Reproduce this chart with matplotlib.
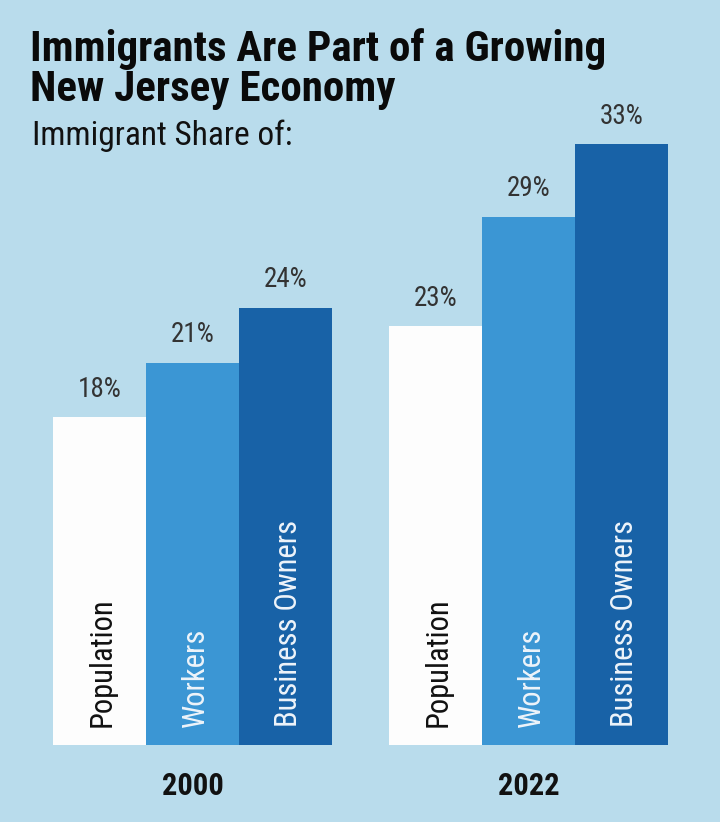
import matplotlib.pyplot as plt
import numpy as np

years = ['2000', '2022']
categories = ['Population', 'Workers', 'Business Owners']
shares = {
    '2000': [18, 21, 24],
    '2022': [23, 29, 33],
}
colors = ['#fdfdfd', '#3b96d4', '#1862a7']
text_colors = ['#111111', '#eef4fa', '#eef4fa']

bg = '#b9dcec'
plt.rcParams['font.family'] = ['Roboto Condensed', 'DejaVu Sans']

fig = plt.figure(figsize=(7.2, 8.22), dpi=100, facecolor=bg)

# axes: bottom at baseline (y=745 px), bar width = 1 unit
W, H = 720, 822
base_px = 745
top_px = 100
ax = fig.add_axes([0, (H - base_px) / H, 1, (base_px - top_px) / H])
ax.set_facecolor(bg)
px_per_pt = 18.2
ax.set_ylim(0, (base_px - top_px) / px_per_pt)
bw_px = 93
ax.set_xlim(-99.5 / bw_px, (720 - 99.5) / bw_px)
group_gap = 336 / bw_px

for g, yr in enumerate(years):
    for i, cat in enumerate(categories):
        x = g * group_gap + i
        v = shares[yr][i]
        ax.bar(x, v, width=1.0, color=colors[i], linewidth=0)
        ax.text(x, v + 1.55, f'{v}%', ha='center', va='center',
                fontsize=19.5, color='#333333')
        ax.text(x + 0.03, 0.99, cat, rotation=90, ha='center', va='bottom',
                fontsize=22, color=text_colors[i])
    ax.text(g * group_gap + 1, -2.25, yr, ha='center', va='center',
            fontsize=22, fontweight='bold', color='#111111')

for s in ax.spines.values():
    s.set_visible(False)
ax.set_xticks([])
ax.set_yticks([])

fig.text(30 / W, 1 - 49 / H, 'Immigrants Are Part of a Growing', fontsize=31,
         fontweight='bold', color='#0a0a0a', ha='left', va='center')
fig.text(30 / W, 1 - 89 / H, 'New Jersey Economy', fontsize=31,
         fontweight='bold', color='#0a0a0a', ha='left', va='center')
fig.text(32 / W, 1 - 136 / H, 'Immigrant Share of:', fontsize=24,
         color='#111111', ha='left', va='center')

plt.savefig('out.png', dpi=100, facecolor=bg)
